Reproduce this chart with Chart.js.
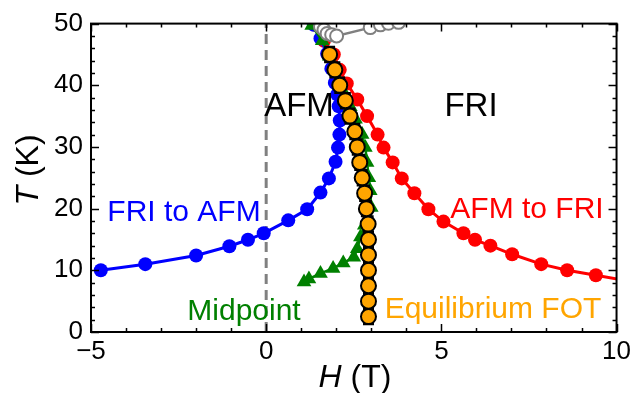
<!DOCTYPE html>
<html><head><meta charset="utf-8">
<script src="https://cdn.jsdelivr.net/npm/chart.js@4"></script>
<style>html,body{margin:0;padding:0;background:#fff}</style>
</head><body>
<canvas id="c" width="635" height="393"></canvas>
<script>
const FONT = '"Liberation Sans", Arial, Helvetica, sans-serif';

// ---- data (H in tesla, T in kelvin) ----
const blueH = [-4.72,-3.45,-2.0,-1.05,-0.52,-0.07,0.63,1.17,1.55,1.79,1.98,2.05,2.09,2.10,2.07,2.03,1.96,1.86,1.74,1.55,1.36];
const blueT = [10.0,11.0,12.4,13.9,14.95,16.0,18.1,19.9,22.6,24.9,27.6,29.9,32.0,34.3,36.6,38.5,40.4,42.7,45.1,47.6,49.8];

const redH = [1.40,1.65,1.93,2.10,2.30,2.60,2.88,3.18,3.35,3.61,3.87,4.23,4.63,5.06,5.63,5.96,6.40,7.02,7.85,8.59,9.41,10.3];
const redT = [49.8,47.2,45.0,42.5,40.3,37.7,35.0,32.0,29.9,27.5,24.9,22.5,19.9,17.9,16.0,14.95,14.0,12.6,11.0,10.0,9.2,8.3];

const greenH = [1.08,1.22,1.55,1.91,2.20,2.50,2.60,2.69,2.80,3.00,2.97,2.93,2.88,2.83,2.74,2.55,2.40,2.25,2.10,1.95,1.80,1.60,1.30];
const greenT = [8.1,8.6,9.5,10.3,11.2,12.1,13.5,15.4,17.3,20.2,22.9,25.0,27.5,29.9,32.0,34.5,36.5,38.5,40.5,42.5,44.7,47.2,49.7];

const orangeT = [2.5,5,7.5,10,12.5,15,17.5,20,22.5,25,27.5,30,32.5,35,37.5,40,42.5,45];
const orangeH = [2.92,2.92,2.92,2.92,2.92,2.92,2.91,2.86,2.81,2.74,2.67,2.60,2.53,2.39,2.26,2.10,1.96,1.81];
const orangeErrT = [1.25,1.25,1.25,1.25,1.25,1.25,1.25,1.25,1.25,1.25,1.25,1.25,1.25,1.25,1.25,1.25,1.25,1.25];

const grayH = [1.55,1.65,1.74,1.87,2.01,2.97,3.26,3.49,3.78];
const grayT = [49.5,49.0,48.4,48.2,48.0,49.35,49.8,50.05,50.2];

const zeroLineH = [0,0];
const zeroLineT = [0,50];

const xTickValues = [-5,0,5,10];
const yTickValues = [0,10,20,30,40,50];

const zip = (xs, ys) => xs.map((x,i)=>({x, y: ys[i]}));

// ---- plugins ----
const ladderPlugin = {
  id: 'ladder',
  beforeDatasetDraw(chart, args) {
    if (chart.data.datasets[args.index].label !== 'Equilibrium FOT') return;
    const xs = chart.scales.x, ys = chart.scales.y, ctx = chart.ctx;
    const a = chart.chartArea;
    ctx.save();
    ctx.beginPath(); ctx.rect(a.left, a.top, a.right-a.left, a.bottom-a.top); ctx.clip();
    ctx.strokeStyle = '#000'; ctx.lineWidth = 2;
    orangeH.forEach((h,i)=>{
      const px = xs.getPixelForValue(h);
      const y1 = ys.getPixelForValue(orangeT[i]-orangeErrT[i]);
      const y2 = ys.getPixelForValue(orangeT[i]+orangeErrT[i]);
      ctx.beginPath();
      ctx.moveTo(px-4.5, y1); ctx.lineTo(px-4.5, y2);
      ctx.moveTo(px+4.5, y1); ctx.lineTo(px+4.5, y2);
      ctx.moveTo(px-5.5, y1); ctx.lineTo(px+5.5, y1);
      ctx.moveTo(px-5.5, y2); ctx.lineTo(px+5.5, y2);
      ctx.stroke();
    });
    ctx.restore();
  }
};

const framePlugin = {
  id: 'frame',
  afterDraw(chart) {
    const ctx = chart.ctx, a = chart.chartArea, xs = chart.scales.x, ys = chart.scales.y;
    ctx.save();
    ctx.strokeStyle = '#000';
    ctx.lineWidth = 1.5;
    for (let v = -5; v <= 10; v += 1) {
      const px = Math.round(xs.getPixelForValue(v)) + 0.5;
      const L = (v % 5 === 0) ? 8 : 4;
      ctx.beginPath();
      ctx.moveTo(px, a.bottom); ctx.lineTo(px, a.bottom - L);
      ctx.moveTo(px, a.top); ctx.lineTo(px, a.top + L);
      ctx.stroke();
    }
    for (let v = 0; v <= 50; v += 2) {
      const py = Math.round(ys.getPixelForValue(v)) + 0.5;
      const L = (v % 10 === 0) ? 8 : 4;
      ctx.beginPath();
      ctx.moveTo(a.left, py); ctx.lineTo(a.left + L, py);
      ctx.moveTo(a.right, py); ctx.lineTo(a.right - L, py);
      ctx.stroke();
    }
    ctx.lineWidth = 2;
    ctx.strokeRect(a.left, a.top, a.right - a.left, a.bottom - a.top);

    ctx.fillStyle = '#000';
    ctx.textBaseline = 'alphabetic';
    const drawMixed = (parts, cx, cy) => {
      let w = 0;
      parts.forEach(p => { ctx.font = p.f; w += ctx.measureText(p.t).width; });
      let x = cx - w/2;
      parts.forEach(p => { ctx.font = p.f; ctx.textAlign = 'left'; ctx.fillText(p.t, x, cy); x += ctx.measureText(p.t).width; });
    };
    drawMixed([{t:'H', f:'italic 32px '+FONT},{t:' (T)', f:'32px '+FONT}], 355, 387);
    ctx.save();
    ctx.translate(38, 170);
    ctx.rotate(-Math.PI/2);
    drawMixed([{t:'T', f:'italic 32px '+FONT},{t:' (K)', f:'32px '+FONT}], 0, 0);
    ctx.restore();

    const label = (t, x, y, color, size) => {
      ctx.font = size + 'px ' + FONT; ctx.fillStyle = color; ctx.textAlign = 'center';
      ctx.fillText(t, x, y);
    };
    label('AFM', 299, 116, '#000', 33);
    label('FRI', 471, 116, '#000', 33);
    label('FRI to AFM', 184, 221, '#0000ff', 30);
    label('AFM to FRI', 527, 218, '#ff0000', 30);
    label('Midpoint', 244, 320, '#008000', 30);
    label('Equilibrium FOT', 493, 318, '#ffa500', 30);
    ctx.restore();
  }
};

new Chart(document.getElementById('c'), {
  type: 'scatter',
  data: {
    datasets: [
      { label: 'H=0', data: zip(zeroLineH, zeroLineT), showLine: true, borderColor: '#808080', borderWidth: 3, borderDash: [10,6], pointRadius: 0, order: 10 },
      { label: 'FRI to AFM', data: zip(blueH, blueT), showLine: true, borderColor: '#0000ff', backgroundColor: '#0000ff', borderWidth: 3, pointRadius: 7, pointBorderWidth: 0, order: 6 },
      { label: 'AFM to FRI', data: zip(redH, redT), showLine: true, borderColor: '#ff0000', backgroundColor: '#ff0000', borderWidth: 3, pointRadius: 7, pointBorderWidth: 0, order: 7 },
      { label: 'Midpoint', data: zip(greenH, greenT), showLine: true, borderColor: '#008000', backgroundColor: '#008000', borderWidth: 2.5, pointStyle: 'triangle', pointRadius: 8.5, pointBorderWidth: 0, order: 5 },
      { label: 'Equilibrium FOT', data: zip(orangeH, orangeT), showLine: false, borderColor: '#000', backgroundColor: '#ffa500', pointRadius: 7.5, pointBorderWidth: 2, order: 3 },
      { label: 'Gray', data: zip(grayH, grayT), showLine: true, borderColor: '#808080', backgroundColor: '#ffffff', borderWidth: 2.5, pointRadius: 6.5, pointBorderWidth: 2, order: 2 }
    ]
  },
  options: {
    responsive: false,
    animation: false,
    events: [],
    layout: { padding: { top: 22, right: 16, left: 0, bottom: 0 } },
    plugins: { legend: { display: false }, tooltip: { enabled: false } },
    scales: {
      x: {
        type: 'linear', min: -5, max: 10,
        afterBuildTicks: s => { s.ticks = xTickValues.map(v => ({value: v})); },
        afterFit: s => { s.height = 61; },
        grid: { display: false, drawTicks: false },
        border: { display: false },
        ticks: { padding: 4, color: '#000', font: { family: FONT, size: 26 }, maxRotation: 0,
                 callback: v => (v < 0 ? '\u2212' + Math.abs(v) : String(v)) }
      },
      y: {
        type: 'linear', min: 0, max: 50,
        afterBuildTicks: s => { s.ticks = yTickValues.map(v => ({value: v})); },
        afterFit: s => { s.width = 91; },
        grid: { display: false, drawTicks: false },
        border: { display: false },
        ticks: { padding: 8, color: '#000', font: { family: FONT, size: 26 } }
      }
    }
  },
  plugins: [ladderPlugin, framePlugin]
});
</script>
</body></html>
